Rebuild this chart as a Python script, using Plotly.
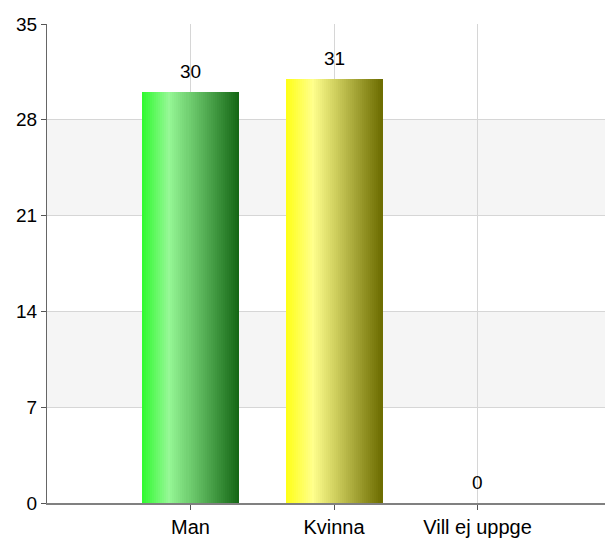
import plotly.graph_objects as go

categories = ["Man", "Kvinna", "Vill ej uppge"]
values = [30, 31, 0]
y_ticks = [0, 7, 14, 21, 28, 35]

# gradient stops per category: (left, highlight, right)
grad = {
    "Man": [(45, 250, 45), (150, 248, 150), (20, 102, 20)],
    "Kvinna": [(255, 255, 20), (255, 255, 140), (108, 108, 0)],
    "Vill ej uppge": [(200, 200, 200), (230, 230, 230), (150, 150, 150)],
}
HL = 0.28
N = 48
W = 0.672


def color_at(stops, t):
    a, b, c = stops
    if t <= HL:
        f = t / HL
        p, q = a, b
    else:
        f = (t - HL) / (1 - HL)
        p, q = b, c
    return "rgb(%d,%d,%d)" % tuple(round(p[i] + (q[i] - p[i]) * f) for i in range(3))


fig = go.Figure()
for k in range(N):
    t = (k + 0.5) / N
    fig.add_trace(go.Bar(
        x=categories,
        y=values,
        width=W / N * 1.15,
        offset=-W / 2 + k * W / N,
        marker=dict(color=[color_at(grad[c], t) for c in categories], line=dict(width=0)),
        showlegend=False,
        hoverinfo="skip",
    ))

for c, v in zip(categories, values):
    fig.add_annotation(x=c, y=v, text=str(v), showarrow=False, yanchor="bottom",
                       yshift=8, font=dict(size=19, color="#000000"))

for lo, hi in [(7, 14), (21, 28)]:
    fig.add_shape(type="rect", xref="paper", x0=0, x1=1, yref="y", y0=lo, y1=hi,
                  fillcolor="#f5f5f5", line=dict(width=0), layer="below")

# page body has an 8px default margin; figure sized/margined to compensate
fig.update_layout(
    width=605, height=530,
    margin=dict(l=39, r=0, t=16, b=35),
    barmode="overlay",
    bargap=0,
    paper_bgcolor="white",
    plot_bgcolor="white",
    font=dict(family="Liberation Sans, Arial, sans-serif", size=19, color="#000000"),
    showlegend=False,
)
fig.update_xaxes(
    type="category",
    range=[-1.0, 2.944],
    automargin=False,
    showgrid=True, gridcolor="#d6d6d6", gridwidth=1,
    showline=True, linecolor="#808080", linewidth=2,
    ticks="outside", ticklen=5, tickcolor="#555555",
    tickfont=dict(size=20),
)
fig.update_yaxes(
    range=[0, 35],
    tickvals=y_ticks,
    automargin=False,
    showgrid=True, gridcolor="#d6d6d6", gridwidth=1,
    zeroline=False,
    showline=True, linecolor="#666666", linewidth=1,
    ticks="outside", ticklen=5, tickcolor="#555555",
    tickfont=dict(size=19),
)

fig.write_html("out.html", post_script="document.body.style.overflow='hidden';")
